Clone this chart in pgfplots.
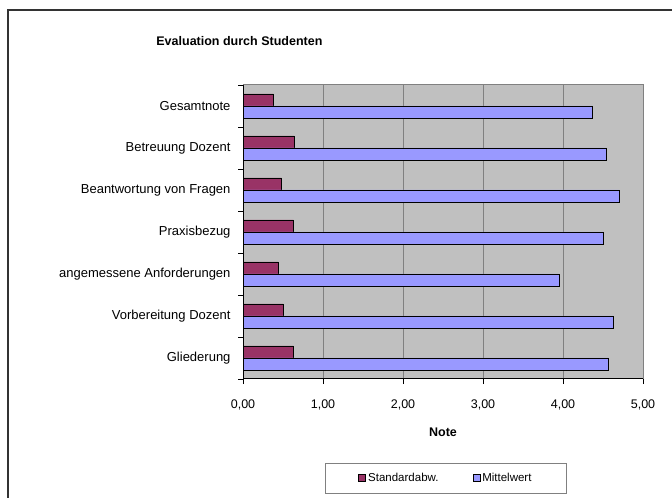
\documentclass[border=0pt]{standalone}
\usepackage{pgfplots}
\pgfplotsset{compat=1.18}
\usepackage{pgfplotstable}
\usepackage{fontspec}
\setmainfont{Liberation Sans}
\definecolor{sdcol}{HTML}{993366}
\definecolor{mwcol}{HTML}{9999FF}
\definecolor{plotbg}{HTML}{C0C0C0}
\definecolor{gridc}{HTML}{808080}

\pgfplotstableread{
y sd mw
0 0.63 4.57
1 0.50 4.63
2 0.44 3.95
3 0.63 4.51
4 0.48 4.70
5 0.64 4.54
6 0.38 4.37
}\datatable

\begin{document}
\begin{tikzpicture}
\useasboundingbox (0bp,0bp) rectangle (672bp,498bp);
\fill[white] (0bp,0bp) rectangle (672bp,498bp);
\draw[line width=1.5bp, black!80] (8bp,-20bp) rectangle (700bp,488bp);
\begin{axis}[
  at={(243bp,119bp)}, anchor=south west,
  scale only axis, width=400bp, height=294bp,
  xbar, bar width=12bp,
  xmin=0, xmax=5, ymin=-0.5, ymax=6.5,
  xtick={0,1,2,3,4,5},
  ytick={0,1,2,3,4,5,6},
  yticklabels={Gliederung, Vorbereitung Dozent, angemessene Anforderungen, Praxisbezug, Beantwortung von Fragen, Betreuung Dozent, Gesamtnote},
  minor ytick={-0.5,0.5,1.5,2.5,3.5,4.5,5.5,6.5},
  xtick pos=left, ytick pos=left,
  tick align=outside,
  major tick length=5bp, minor tick length=5bp,
  tick style={black, line width=0.8bp},
  major y tick style={draw=none},
  minor y tick style={draw=black, line width=0.8bp},
  xmajorgrids=true,
  major x grid style={gridc, line width=0.8bp},
  axis background/.style={fill=plotbg},
  axis line style={gridc, line width=1bp},
  ticklabel style={font=\fontsize{12.5bp}{15bp}\selectfont},
  yticklabel style={font=\fontsize{13bp}{15bp}\selectfont, xshift=-4bp},
  xticklabel style={yshift=-12bp, /pgf/number format/fixed, /pgf/number format/fixed zerofill, /pgf/number format/precision=2, /pgf/number format/use comma, /pgf/number format/assume math mode=true},
  title={Evaluation durch Studenten},
  title style={at={(axis description cs:-0.009,1.129)}, anchor=center, font=\bfseries\fontsize{12.5bp}{15bp}\selectfont},
  xlabel={Note},
  xlabel style={at={(axis description cs:0.5,-0.18)}, anchor=center, font=\bfseries\fontsize{12.5bp}{15bp}\selectfont},
  legend columns=2,
  legend style={at={(axis description cs:0.205,-0.2857)}, anchor=north west, draw=gridc, line width=0.8bp,
    font=\fontsize{11.5bp}{13bp}\selectfont, inner xsep=33bp, inner ysep=8bp,
    /tikz/every even column/.append style={column sep=32bp}},
  legend image code/.code={\draw[#1,line width=0.8bp] (0bp,-3.5bp) rectangle (7bp,3.5bp);},
  after end axis/.code={\draw[black, line width=1bp] (rel axis cs:0,1) -- (rel axis cs:0,0) -- (rel axis cs:1,0);},
]
\addplot[fill=sdcol, draw=black, line width=0.8bp, bar shift=6bp] table[x=sd,y=y]{\datatable};
\addplot[fill=mwcol, draw=black, line width=0.8bp, bar shift=-6bp] table[x=mw,y=y]{\datatable};
\legend{Standardabw., Mittelwert}
\end{axis}
\end{tikzpicture}
\end{document}
